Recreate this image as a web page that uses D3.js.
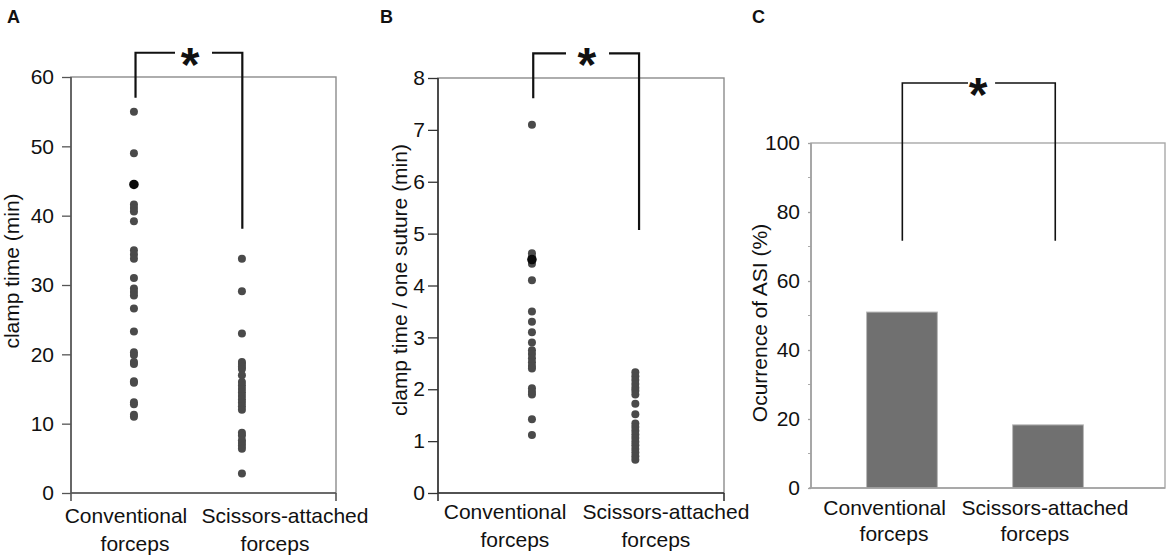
<!doctype html>
<html>
<head>
<meta charset="UTF-8">
<title>clamp time</title>
<script src="https://d3js.org/d3.v7.min.js"></script>
<style>
  body { margin: 0; background: #fff; }
  text { font-family: "Liberation Sans", Arial, sans-serif; fill: #111; }
</style>
</head>
<body>
<script>
// ---- data ----
var categories = ["Conventional forceps", "Scissors-attached forceps"];
var xLabelLines = [["Conventional", "forceps"], ["Scissors-attached", "forceps"]];

// A: clamp time (min)
var clampConv = [55, 49, 41.6, 41.1, 40.6, 39.2, 35.0, 34.4, 33.8, 31.0, 29.5, 29.0, 28.5,
                 26.6, 23.3, 20.3, 19.9, 18.9, 18.6, 16.1, 15.9, 13.1, 12.8, 11.3, 11.0];
var clampScis = [33.8, 29.1, 23.0, 18.9, 18.6, 18.2, 17.9, 17.0, 16.0, 15.5, 15.0, 14.5, 14.0,
                 13.5, 13.0, 12.5, 12.0, 8.7, 8.3, 7.6, 7.2, 6.8, 6.4, 2.8];
var clampTies = [44.5];           // darker, overlapping point in conventional group

// B: clamp time / one suture (min)
var sutureConv = [7.1, 4.62, 4.55, 4.42, 4.1, 3.5, 3.3, 3.1, 2.9, 2.75, 2.68, 2.6, 2.52,
                  2.45, 2.4, 2.02, 1.95, 1.9, 1.42, 1.12];
var sutureScis = [2.33, 2.25, 2.18, 2.1, 2.03, 1.97, 1.9, 1.72, 1.52, 1.34, 1.27, 1.2, 1.13,
                  1.06, 0.99, 0.92, 0.85, 0.78, 0.71, 0.64];
var sutureTies = [4.5];

// C: occurrence of ASI (%)
var asiRate = [51, 18.3];

var ticksA = [0, 10, 20, 30, 40, 50, 60];
var ticksB = [0, 1, 2, 3, 4, 5, 6, 7, 8];
var ticksC = [0, 20, 40, 60, 80, 100];
var minorC = [10, 30, 50, 70, 90];

// ---- layout ----
var W = 1170, H = 559;
var svg = d3.select("body").append("svg").attr("width", W).attr("height", H);

// labelX: [category][line] position on the 0..2 x domain
var panels = [
  { id: "A", letterX: 7, x0: 71, x1: 336, yTop: 77, yBot: 493, max: 60, ticks: ticksA,
    title: "clamp time (min)", titleX: 19, titleY: 271, tickLen: 9, tickPad: 8,
    dotX: [0.475, 1.29], labelX: [[0.415, 0.483], [1.615, 1.54]], labelY: [523, 551],
    series: [clampConv, clampScis], ties: clampTies,
    bracket: { l: 0.487, r: 1.293, top: 63.5, lEnd: 57.0, rEnd: 38.1, g0: 0.785, g1: 1.064, star: 0.898 },
    axisCol: "#555", frameCol: "#8c8c8c", endTicks: true },
  { id: "B", letterX: 380, x0: 438, x1: 724, yTop: 78, yBot: 493, max: 8, ticks: ticksB,
    title: "clamp time / one suture (min)", titleX: 407, titleY: 280, tickLen: 10, tickPad: 3,
    dotX: [0.657, 1.38], labelX: [[0.469, 0.538], [1.594, 1.524]], labelY: [519, 547],
    series: [sutureConv, sutureScis], ties: sutureTies,
    bracket: { l: 0.666, r: 1.406, top: 8.476, lEnd: 7.61, rEnd: 5.07, g0: 0.895, g1: 1.196, star: 1.04 },
    axisCol: "#333", frameCol: "#8c8c8c", endTicks: true },
  { id: "C", letterX: 752, x0: 811, x1: 1165, yTop: 143, yBot: 488, max: 100, ticks: ticksC,
    title: "Ocurrence of ASI (%)", titleX: 767, titleY: 323, tickLen: 3, tickPad: 8,
    labelX: [[0.416, 0.469], [1.322, 1.265]], labelY: [515, 541],
    bars: asiRate, barX: [0.514, 1.339], barW: 0.4,
    bracket: { l: 0.516, r: 1.38, top: 117.4, lEnd: 71.7, rEnd: 71.7, g0: 0.887, g1: 1.04, star: 0.944 },
    axisCol: "#a0a0a0", frameCol: "#a8a8a8", endTicks: false }
];

panels.forEach(function(p) {
  var g = svg.append("g");
  var x = d3.scaleLinear().domain([0, 2]).range([p.x0, p.x1]);
  var y = d3.scaleLinear().domain([0, p.max]).range([p.yBot, p.yTop]);

  // panel letter
  g.append("text").attr("x", p.letterX).attr("y", 23)
    .attr("font-size", 18).attr("font-weight", "bold").text(p.id);

  // frame (top/right lighter)
  g.append("rect").attr("x", p.x0).attr("y", p.yTop)
    .attr("width", p.x1 - p.x0).attr("height", p.yBot - p.yTop)
    .attr("fill", "none").attr("stroke", p.frameCol).attr("stroke-width", 1.4);

  // bars (panel C)
  if (p.bars) {
    g.selectAll(".bar").data(p.bars).enter().append("rect")
      .attr("x", function(d, i) { return x(p.barX[i] - p.barW / 2); })
      .attr("width", x(p.barW) - x(0))
      .attr("y", function(d) { return y(d); })
      .attr("height", function(d) { return y(0) - y(d); })
      .attr("fill", "#707070").attr("stroke", "#b8b8b8").attr("stroke-width", 1);
  }

  // y axis
  var ax = d3.axisLeft(y).tickValues(p.ticks).tickSize(p.tickLen).tickPadding(p.tickPad)
    .tickFormat(d3.format("d"));
  var ag = g.append("g").attr("transform", "translate(" + p.x0 + ",0)").call(ax);
  ag.select(".domain").remove();
  ag.selectAll(".tick line").attr("stroke", p.axisCol).attr("stroke-width", 1.3);
  ag.selectAll(".tick text").attr("font-size", 21).attr("fill", "#111")
    .style("font-family", "'Liberation Sans', Arial, sans-serif");
  if (p.id === "C") {
    g.selectAll(".minor").data(minorC).enter().append("line")
      .attr("x1", p.x0 - 3).attr("x2", p.x0)
      .attr("y1", function(d) { return y(d); }).attr("y2", function(d) { return y(d); })
      .attr("stroke", "#aaa").attr("stroke-width", 1);
  }
  // left and bottom axis lines
  g.append("line").attr("x1", p.x0).attr("x2", p.x0).attr("y1", p.yTop).attr("y2", p.yBot + (p.endTicks ? 8 : 0))
    .attr("stroke", p.axisCol).attr("stroke-width", 1.6);
  g.append("line").attr("x1", p.x0 - (p.endTicks ? 0 : 2)).attr("x2", p.x1).attr("y1", p.yBot).attr("y2", p.yBot)
    .attr("stroke", p.axisCol).attr("stroke-width", 1.6);
  if (p.endTicks) {
    g.append("line").attr("x1", p.x1).attr("x2", p.x1).attr("y1", p.yBot).attr("y2", p.yBot + 8)
      .attr("stroke", p.axisCol).attr("stroke-width", 1.6);
  }

  // y title
  g.append("text")
    .attr("transform", "translate(" + p.titleX + "," + p.titleY + ") rotate(-90)")
    .attr("text-anchor", "middle").attr("font-size", 21).text(p.title);

  // category labels
  xLabelLines.forEach(function(lines, i) {
    lines.forEach(function(t, j) {
      g.append("text").attr("x", x(p.labelX[i][j])).attr("y", p.labelY[j])
        .attr("text-anchor", "middle").attr("font-size", 21).text(t);
    });
  });

  // dots
  if (p.series) {
    p.series.forEach(function(vals, i) {
      g.selectAll(".dot" + i).data(vals).enter().append("circle")
        .attr("cx", x(p.dotX[i])).attr("cy", function(d) { return y(d); })
        .attr("r", 4).attr("fill", "#4a4a4a");
    });
    g.selectAll(".tie").data(p.ties).enter().append("circle")
      .attr("cx", x(p.dotX[0])).attr("cy", function(d) { return y(d); })
      .attr("r", 4.8).attr("fill", "#0a0a0a");
  }

  // significance bracket
  var b = p.bracket;
  var bw = p.id === "C" ? 1.6 : 2.2;
  var path = d3.path();
  path.moveTo(x(b.l), y(b.lEnd)); path.lineTo(x(b.l), y(b.top)); path.lineTo(x(b.g0), y(b.top));
  path.moveTo(x(b.g1), y(b.top)); path.lineTo(x(b.r), y(b.top)); path.lineTo(x(b.r), y(b.rEnd));
  g.append("path").attr("d", path.toString()).attr("fill", "none")
    .attr("stroke", "#111").attr("stroke-width", bw);
  var fs = 48;
  g.append("text").attr("x", x(b.star)).attr("y", y(b.top) + 2 + 0.543 * fs)
    .attr("text-anchor", "middle").attr("font-size", fs).attr("font-weight", "bold").text("*");
});
</script>
</body>
</html>
